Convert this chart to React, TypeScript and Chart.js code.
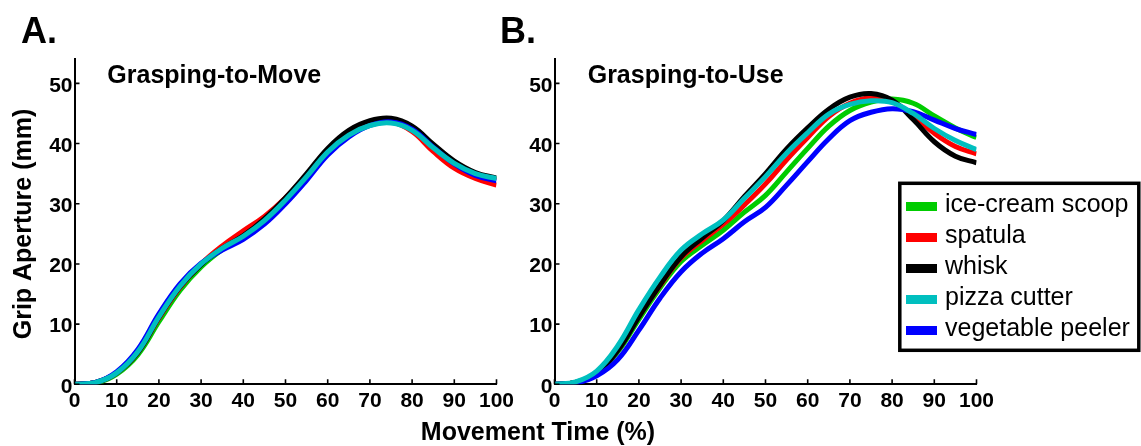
import React, { useEffect, useRef } from "react";
import { Chart, registerables } from "chart.js";

Chart.register(...registerables);

const FONT = '"Liberation Sans", Arial, Helvetica, sans-serif';

// Movement time (% of movement) sample positions
const movementTime = [0, 5, 10, 15, 20, 25, 30, 35, 40, 45, 50, 55, 60, 65, 70, 75, 80, 85, 90, 95, 100];

const toolNames = ["ice-cream scoop", "spatula", "whisk", "pizza cutter", "vegetable peeler"];
const toolColors = ["rgb(0,204,0)", "rgb(255,0,0)", "rgb(0,0,0)", "rgb(0,191,191)", "rgb(0,0,255)"];
// lower order = drawn on top
const toolDrawOrder = [4, 3, 2, 0, 1];

// Panel A: Grasping-to-Move (grip aperture, mm)
const moveIceCreamScoop = [0, 0.2, 1.7, 4.9, 10.4, 15.6, 19.5, 22.4, 24.7, 27.3, 30.7, 34.6, 38.7, 41.5, 43.2, 43.6, 42.3, 39.4, 36.8, 35.0, 34.0];
const moveSpatula = [0, 0.3, 1.9, 5.3, 11.0, 16.1, 20.0, 23.0, 25.5, 27.9, 31.0, 34.8, 38.8, 41.6, 43.3, 43.6, 42.0, 38.7, 35.9, 34.2, 33.1];
const moveWhisk = [0, 0.3, 1.9, 5.3, 11.1, 16.2, 19.9, 22.6, 24.7, 27.5, 31.0, 35.0, 39.2, 42.2, 43.8, 44.2, 42.9, 39.9, 37.1, 35.2, 34.3];
const movePizzaCutter = [0, 0.3, 1.9, 5.4, 11.2, 16.3, 20.0, 22.6, 24.6, 27.2, 30.6, 34.5, 38.6, 41.4, 43.0, 43.4, 42.2, 39.3, 36.7, 35.0, 34.2];
const moveVegetablePeeler = [0, 0.3, 2.1, 5.8, 11.7, 16.7, 20.1, 22.3, 24.1, 26.6, 30.0, 33.9, 38.1, 41.1, 43.0, 43.6, 42.4, 39.4, 36.6, 34.7, 33.8];

// Panel B: Grasping-to-Use (grip aperture, mm)
const useIceCreamScoop = [0, 0.3, 1.8, 5.4, 10.8, 16.0, 20.4, 23.1, 25.6, 28.6, 31.4, 35.3, 39.2, 42.9, 45.5, 46.9, 47.4, 46.7, 44.6, 42.6, 41.0];
const useSpatula = [0, 0.3, 1.9, 5.7, 11.3, 16.4, 21.0, 23.9, 26.6, 29.8, 33.3, 37.3, 41.0, 44.5, 46.7, 47.6, 47.0, 44.6, 41.7, 39.5, 38.3];
const useWhisk = [0, 0.3, 1.9, 5.6, 11.2, 16.5, 21.2, 24.3, 27.2, 31.2, 35.0, 39.1, 42.6, 45.7, 47.7, 48.3, 47.2, 44.0, 40.3, 37.9, 36.8];
const usePizzaCutter = [0, 0.4, 2.2, 6.4, 12.4, 17.8, 22.3, 25.0, 27.3, 30.9, 34.5, 38.4, 41.8, 44.9, 46.5, 47.1, 46.8, 45.0, 42.5, 40.5, 39.0];
const useVegetablePeeler = [0, 0.2, 1.4, 4.1, 9.0, 14.3, 18.7, 21.8, 24.2, 27.0, 29.4, 33.1, 37.0, 40.8, 43.8, 45.2, 45.8, 45.3, 43.9, 42.5, 41.5];

const xMin = 0;
const xMax = 100;
const xStep = 10;
const yMin = 0;
const yMax = 54;
const yStep = 10;

const yAxisTitle = "Grip Aperture (mm)";
const xAxisTitle = "Movement Time (%)";

const W = 1141;
const H = 446;

type Panel = {
  letter: string;
  title: string;
  series: number[][];
  padLeft: number;
  padRight: number;
  letterX: number;
  titleX: number;
  yLabel: boolean;
  xLabel: boolean;
  legend: boolean;
};

const innerTicks = {
  id: "innerTicks",
  afterDatasetsDraw(chart: any) {
    const { ctx, chartArea, scales } = chart;
    const xs = scales.x;
    const ys = scales.y;
    ctx.save();
    ctx.strokeStyle = "#000";
    ctx.lineWidth = 1.6;
    ctx.beginPath();
    xs.ticks.forEach((t: any) => {
      const px = xs.getPixelForValue(t.value);
      ctx.moveTo(px, chartArea.bottom);
      ctx.lineTo(px, chartArea.bottom - 5);
    });
    ys.ticks.forEach((t: any) => {
      const py = ys.getPixelForValue(t.value);
      ctx.moveTo(chartArea.left, py);
      ctx.lineTo(chartArea.left + 5, py);
    });
    ctx.stroke();
    ctx.restore();
  },
};

function makeTextPlugin(panel: Panel) {
  return {
    id: "panelText" + panel.letter,
    afterDraw(chart: any) {
      const ctx = chart.ctx;
      ctx.save();
      ctx.fillStyle = "#000";
      ctx.textBaseline = "alphabetic";
      ctx.textAlign = "left";
      ctx.font = `bold 36px ${FONT}`;
      ctx.fillText(panel.letter, panel.letterX, 42.5);
      ctx.font = `bold 25px ${FONT}`;
      ctx.fillText(panel.title, panel.titleX, 83.3);

      if (panel.yLabel) {
        ctx.save();
        ctx.translate(31, 224);
        ctx.rotate(-Math.PI / 2);
        ctx.textAlign = "center";
        ctx.font = `bold 25px ${FONT}`;
        ctx.fillText(yAxisTitle, 0, 0);
        ctx.restore();
      }
      if (panel.xLabel) {
        ctx.textAlign = "center";
        ctx.font = `bold 25px ${FONT}`;
        ctx.fillText(xAxisTitle, 538, 440);
        ctx.textAlign = "left";
      }
      if (panel.legend) {
        const datasets = chart.data.datasets;
        const left = 899.8;
        const top = 183.3;
        const right = 1138.8;
        const bottom = 350.3;
        ctx.fillStyle = "#fff";
        ctx.fillRect(left, top, right - left, bottom - top);
        ctx.strokeStyle = "#000";
        ctx.lineWidth = 3.5;
        ctx.strokeRect(left, top, right - left, bottom - top);
        ctx.font = `25px ${FONT}`;
        datasets.forEach((ds: any, i: number) => {
          const cy = 206.5 + i * 31;
          ctx.fillStyle = ds.borderColor;
          ctx.fillRect(906, cy - 4.5, 31, 9);
          ctx.fillStyle = "#000";
          ctx.fillText(ds.label, 945, cy + 5.6);
        });
      }
      ctx.restore();
    },
  };
}

function buildConfig(panel: Panel): any {
  const datasets = panel.series.map((vals, i) => ({
    label: toolNames[i],
    data: movementTime.map((t, k) => ({ x: t, y: vals[k] })),
    borderColor: toolColors[i],
    backgroundColor: toolColors[i],
    borderWidth: 5,
    pointRadius: 0,
    fill: false,
    tension: 0.4,
    order: toolDrawOrder[i],
  }));
  const tickFont = { family: FONT, size: 21, weight: "bold" };
  return {
    type: "line",
    data: { datasets },
    plugins: [innerTicks, makeTextPlugin(panel)],
    options: {
      animation: false,
      responsive: false,
      maintainAspectRatio: false,
      events: [],
      layout: {
        padding: { left: panel.padLeft, right: panel.padRight, top: 59.3, bottom: 21.7 },
      },
      plugins: {
        legend: { display: false },
        tooltip: { enabled: false },
        title: { display: false },
      },
      scales: {
        x: {
          type: "linear",
          min: xMin,
          max: xMax,
          afterFit: (s: any) => {
            s.height = 40;
          },
          ticks: {
            stepSize: xStep,
            color: "#000",
            font: tickFont,
            padding: 4,
            maxRotation: 0,
            autoSkip: false,
            includeBounds: false,
          },
          grid: { display: false, drawTicks: false },
          border: { display: true, color: "#000", width: 2 },
        },
        y: {
          type: "linear",
          min: yMin,
          max: yMax,
          afterFit: (s: any) => {
            s.width = 74.5;
          },
          afterBuildTicks: (s: any) => {
            s.ticks = s.ticks.filter((t: any) => t.value % yStep === 0);
          },
          ticks: {
            stepSize: yStep,
            color: "#000",
            font: tickFont,
            padding: 2,
            labelOffset: 2.5,
            includeBounds: false,
          },
          grid: { display: false, drawTicks: false },
          border: { display: true, color: "#000", width: 2 },
        },
      },
    },
  };
}

const panelA: Panel = {
  letter: "A.",
  title: "Grasping-to-Move",
  series: [moveIceCreamScoop, moveSpatula, moveWhisk, movePizzaCutter, moveVegetablePeeler],
  padLeft: 0,
  padRight: W - 496.5,
  letterX: 21,
  titleX: 107.3,
  yLabel: true,
  xLabel: false,
  legend: false,
};

const panelB: Panel = {
  letter: "B.",
  title: "Grasping-to-Use",
  series: [useIceCreamScoop, useSpatula, useWhisk, usePizzaCutter, useVegetablePeeler],
  padLeft: 480,
  padRight: W - 976.5,
  letterX: 500,
  titleX: 587.7,
  yLabel: false,
  xLabel: true,
  legend: true,
};

function PanelCanvas({ panel }: { panel: Panel }) {
  const ref = useRef<HTMLCanvasElement | null>(null);
  useEffect(() => {
    if (!ref.current) return;
    const chart = new Chart(ref.current, buildConfig(panel));
    return () => chart.destroy();
  }, [panel]);
  return (
    <canvas
      ref={ref}
      width={W}
      height={H}
      style={{ position: "absolute", left: 0, top: 0, width: W, height: H }}
    />
  );
}

export default function App() {
  return (
    <div
      style={{
        position: "absolute",
        left: 0,
        top: 0,
        width: W,
        height: H,
        background: "#fff",
        overflow: "hidden",
      }}
    >
      <PanelCanvas panel={panelA} />
      <PanelCanvas panel={panelB} />
    </div>
  );
}
